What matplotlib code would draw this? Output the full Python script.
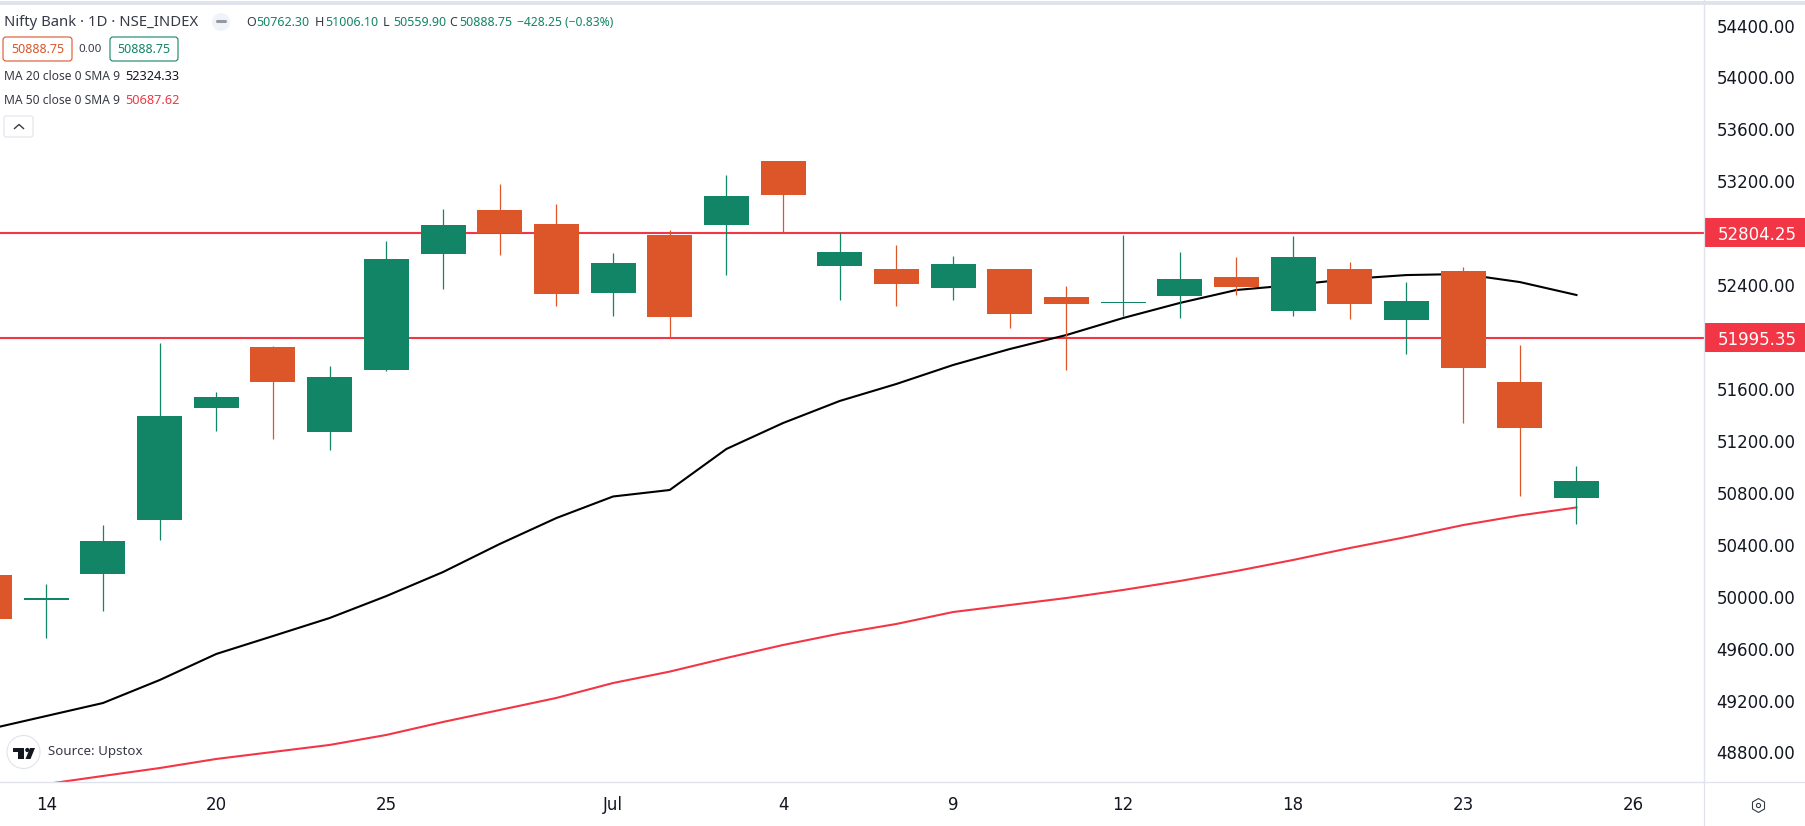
import matplotlib
matplotlib.use("Agg")
import matplotlib.pyplot as plt
from matplotlib.patches import Rectangle, Circle, FancyBboxPatch, Polygon

W, H = 1806, 826
AXIS_X, AXIS_Y = 1704, 782

# candles, oldest first
opens = [50167, 49975, 50175, 50591, 51454, 51924, 51269, 51746, 52640, 52979,
         52871, 52340, 52787, 52864, 53357, 52548, 52525, 52378, 52525, 52309,
         52266, 52317, 52463, 52201, 52525, 52132, 52509, 51654, 50762.30]
highs = [50167, 50098, 50552, 51954, 51577, 51931, 51777, 52740, 52987, 53180,
         53025, 52648, 52825, 53249, 53357, 52810, 52710, 52625, 52525, 52394,
         52787, 52656, 52617, 52779, 52579, 52424, 52540, 51939, 51006.10]
lows = [49828, 49682, 49890, 50437, 51277, 51215, 51130, 51739, 52370, 52632,
        52240, 52162, 52001, 52478, 52810, 52286, 52240, 52286, 52070, 51747,
        52162, 52147, 52324, 52162, 52139, 51870, 51338, 50776, 50559.90]
closes = [49828, 49990, 50429, 51392, 51535, 51652, 51693, 52602, 52864, 52802,
          52332, 52571, 52155, 53087, 53095, 52656, 52409, 52563, 52178, 52255,
          52270, 52448, 52386, 52617, 52255, 52278, 51762, 51300, 50888.75]

ma20 = [48981, 49081, 49181, 49358, 49559, 49697, 49836, 50005, 50190, 50406,
        50606, 50772, 50822, 51138, 51338, 51508, 51639, 51785, 51908, 52016,
        52147, 52263, 52363, 52401, 52448, 52478, 52486, 52424, 52324.33]
ma50 = [48495, 48557, 48619, 48680, 48750, 48804, 48858, 48935, 49035, 49127,
        49220, 49335, 49423, 49528, 49628, 49716, 49790, 49882, 49936, 49990,
        50052, 50121, 50198, 50283, 50375, 50460, 50552, 50626, 50687.62]

levels = [52804.25, 51995.35]
price_ticks = list(range(48800, 54401, 400))
date_pos = [1, 4, 7, 11, 14, 17, 20, 23, 26, 29]
date_labels = ["14", "20", "25", "Jul", "4", "9", "12", "18", "23", "26"]

GREEN = "#138567"
ORANGE = "#DC5629"
RED = "#F23645"
GRID = "#E0E3EB"
INK = "#131722"
LEG = "#363A45"

plt.rcParams["font.family"] = ["DejaVu Sans"]
fig = plt.figure(figsize=(W / 100, H / 100), dpi=100)

ax = fig.add_axes([0, (H - AXIS_Y) / H, AXIS_X / W, AXIS_Y / H])
ax.set_xlim(0.183, 30.25)
ax.set_ylim(54597 - 7.704 * AXIS_Y, 54597)

for lev in levels:
    ax.axhline(lev, color=RED, lw=1.5, zorder=1)
xs = list(range(len(opens)))
ax.plot(xs, ma20, color="black", lw=1.5, zorder=2)
ax.plot(xs, ma50, color=RED, lw=1.5, zorder=2)

cols = [GREEN if c >= o else ORANGE for o, c in zip(opens, closes)]
ax.vlines(xs, lows, highs, colors=cols, lw=0.9, zorder=3)
ax.bar(xs, [abs(c - o) for o, c in zip(opens, closes)],
       bottom=[min(o, c) for o, c in zip(opens, closes)],
       width=0.794, color=cols, lw=0, zorder=4)

ax.spines[["top", "left"]].set_visible(False)
ax.spines[["right", "bottom"]].set_color(GRID)
ax.yaxis.tick_right()
ax.set_yticks(price_ticks, [f"{p:.2f}" for p in price_ticks])
ax.set_xticks(date_pos, date_labels)
ax.tick_params(axis="y", length=0, pad=9, labelsize=12, labelcolor=INK)
ax.tick_params(axis="x", length=0, pad=10, labelsize=12, labelcolor=INK)

# price tags on the scale
for lev in levels:
    ax.add_patch(Rectangle((1.0, lev - 112), 102 / AXIS_X, 224, color=RED, lw=0,
                           transform=ax.get_yaxis_transform(), clip_on=False, zorder=5))
    ax.text(1.0 + 53 / AXIS_X, lev, f"{lev:.2f}", color="white", fontsize=12,
            ha="center", va="center_baseline", transform=ax.get_yaxis_transform(), zorder=6)

# overlay in pixels for legend and furniture
ov = fig.add_axes([0, 0, 1, 1], facecolor="none")
ov.set_xlim(0, W)
ov.set_ylim(H, 0)
ov.axis("off")

ov.add_patch(Rectangle((0, 1), W, 4, color=GRID, lw=0))
ov.plot([AXIS_X, AXIS_X], [0, H], color=GRID, lw=0.9)
ov.plot([0, W], [AXIS_Y, AXIS_Y], color=GRID, lw=0.9)

SMALL = dict(family="Noto Sans", va="center")
ov.text(4, 22, "Nifty Bank · 1D · NSE_INDEX", fontsize=10.7, color=LEG, **SMALL)
ov.add_patch(Circle((221, 22), 9, color="#F0F3FA", lw=0))
ov.plot([217, 225], [21, 21], color="#9598A1", lw=2.2, solid_capstyle="round")

ohlc = [(246, "O", "50762.30"), (315, "H", "51006.10"), (383, "L", "50559.90"), (449, "C", "50888.75")]
for x, letter, val in ohlc:
    ov.text(x, 22, letter, fontsize=9, color=LEG, **SMALL)
    ov.text(x + 10.5, 22, val, fontsize=9, color=GREEN, **SMALL)
ov.text(517, 22, "−428.25 (−0.83%)", fontsize=8.7, color=GREEN, **SMALL)

for x0, x1, col in [(3, 72, ORANGE), (110, 178, GREEN)]:
    ov.add_patch(FancyBboxPatch((x0 + 2, 39), x1 - x0 - 4, 20, boxstyle="round,pad=2,rounding_size=3",
                                fc="white", ec=col, lw=0.8))
    ov.text((x0 + x1) / 2, 49.5, "50888.75", fontsize=9, color=col, ha="center", family="Noto Sans", va="center")
ov.text(90, 49, "0.00", fontsize=8.3, color=LEG, ha="center", family="Noto Sans", va="center")

ov.text(4, 77, "MA 20 close 0 SMA 9", fontsize=8.7, color=LEG, **SMALL)
ov.text(125, 77, "52324.33", fontsize=9.2, color=INK, **SMALL)
ov.text(4, 101, "MA 50 close 0 SMA 9", fontsize=8.7, color=LEG, **SMALL)
ov.text(125, 101, "50687.62", fontsize=9.2, color=RED, **SMALL)

ov.add_patch(FancyBboxPatch((6, 118), 25, 17, boxstyle="round,pad=2,rounding_size=2",
                            fc="white", ec=GRID, lw=0.8))
ov.plot([14.5, 19, 23.5], [128.5, 124.5, 128.5], color=LEG, lw=1)

# TradingView badge
ov.add_patch(Circle((23.5, 752), 16.5, fc="white", ec=GRID, lw=0.8))
ov.add_patch(Polygon([(13, 748), (24, 748), (24, 759), (18.5, 759), (18.5, 752), (13, 752)], color=INK, lw=0))
ov.add_patch(Circle((27.3, 750), 2.1, color=INK, lw=0))
ov.add_patch(Polygon([(30, 748), (35, 748), (30.5, 759), (25.5, 759)], color=INK, lw=0))
ov.text(48, 752, "Source: Upstox", fontsize=9.6, color=LEG, **SMALL)

# settings gear
ov.plot([1757.7], [805], marker="h", ms=10, mfc="none", mec=LEG, mew=0.8)
ov.plot([1757.7], [805], marker="o", ms=3, mfc="none", mec=LEG, mew=0.8)

fig.savefig("out.png", dpi=100, facecolor="white")
